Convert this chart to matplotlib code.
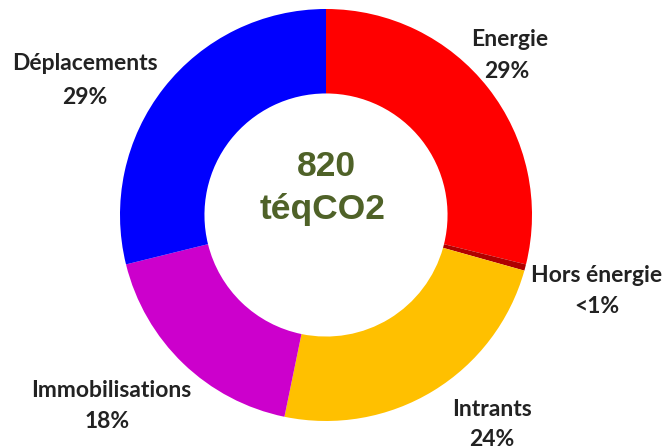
import matplotlib
matplotlib.use("Agg")
from matplotlib import pyplot as plt

categories = ["Energie", "Hors énergie", "Intrants", "Immobilisations", "Déplacements"]
shares = [29, 0.5, 24, 18, 29]
pct_labels = ["29%", "<1%", "24%", "18%", "29%"]
colors = ["#FF0000", "#B00000", "#FFC000", "#CC00CC", "#0000FF"]
total_value = "820"
total_unit = "téqCO2"

# label positions in pixels (x, y from top): name line, percent line
name_px = [(510, 39), (597, 275), (492, 409), (111, 390), (85, 64)]
pct_px = [(507, 71), (597, 306), (492, 439), (107, 421), (85, 97)]
cx, cy, R = 326, 215, 206  # pie centre and radius in pixels


def to_data(px, py):
    return (px - cx) / R, (cy - py) / R


fig = plt.figure(figsize=(6.64, 4.48), dpi=100)
ax = fig.add_axes([0, 0, 1, 1])
ax.pie(shares, colors=colors, startangle=90, counterclock=False, radius=1,
       wedgeprops=dict(width=0.41, linewidth=0))
ax.set_xlim((0 - cx) / R, (664 - cx) / R)
ax.set_ylim((cy - 448) / R, cy / R)
ax.set_aspect("auto")
ax.axis("off")

style = dict(ha="center", va="center", fontsize=16.5, fontfamily="Lato",
             fontweight="bold", color="#222222")
for name, pct, npos, ppos in zip(categories, pct_labels, name_px, pct_px):
    ax.text(*to_data(*npos), name, **style)
    ax.text(*to_data(*ppos), pct, **style)

center = dict(ha="center", va="center", fontsize=25.5, fontfamily="Liberation Sans",
              fontweight="bold", color="#4F6228")
ax.text(*to_data(326, 167), total_value, **center)
ax.text(*to_data(323, 209), total_unit, **center)

fig.savefig("out.png", dpi=100)
